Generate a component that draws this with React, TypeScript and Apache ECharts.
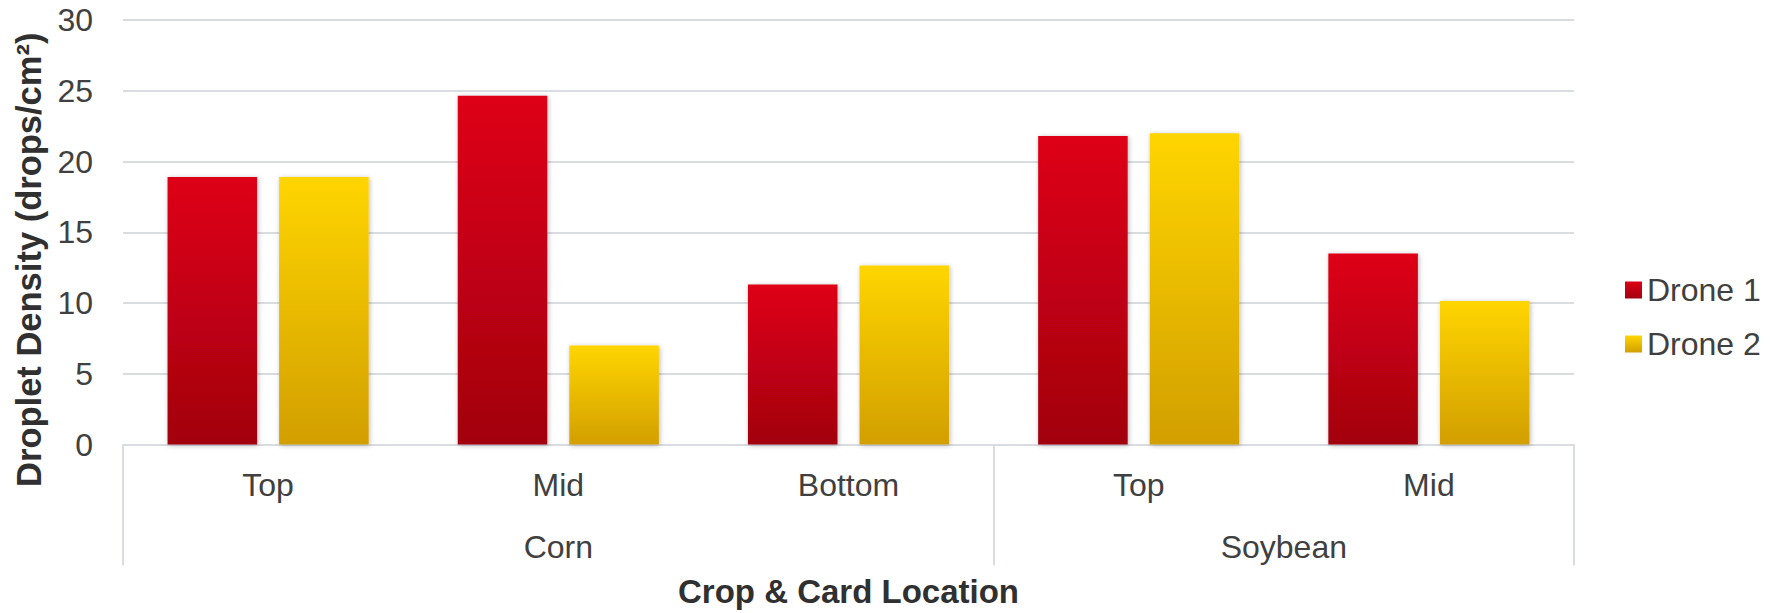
import { useEffect, useRef } from 'react';
import * as echarts from 'echarts';

// Card locations along the x axis, grouped by crop
const locations = ['Top', 'Mid', 'Bottom', 'Top', 'Mid'];
const crops = ['Corn', 'Soybean'];
const cropSpans = [3, 2];

// Droplet density (drops/cm²)
const drone1 = [18.9, 24.65, 11.3, 21.8, 13.5];
const drone2 = [18.9, 7.0, 12.65, 22.0, 10.15];

const yMin = 0;
const yMax = 30;
const yStep = 5;

const FONT = "'Liberation Sans', Arial, sans-serif";
const TEXT = '#404040';
const RULE = '#d9dde2';

export default function App() {
  const ref = useRef<HTMLDivElement>(null);

  useEffect(() => {
    document.body.style.margin = '0';
    if (!ref.current) return;
    const chart = echarts.init(ref.current, undefined, { renderer: 'svg' });

    // group start indices and centre positions (in category units)
    const groupStarts: number[] = [];
    const groupCenters: number[] = [];
    let acc = 0;
    cropSpans.forEach((s) => {
      groupStarts.push(acc);
      groupCenters.push(acc + s / 2);
      acc += s;
    });

    const red = new echarts.graphic.LinearGradient(0, 0, 0, 1, [
      { offset: 0, color: '#de0016' },
      { offset: 1, color: '#a2000f' },
    ]);
    const yellow = new echarts.graphic.LinearGradient(0, 0, 0, 1, [
      { offset: 0, color: '#ffd500' },
      { offset: 1, color: '#d29f00' },
    ]);

    const barShadow = {
      shadowBlur: 5,
      shadowColor: 'rgba(0,0,0,0.28)',
      shadowOffsetX: 1,
      shadowOffsetY: 1,
    };

    chart.setOption({
      animation: false,
      textStyle: { fontFamily: FONT },
      grid: { left: 123, right: 213, top: 20, bottom: 168.5, containLabel: false },
      legend: {
        orient: 'vertical',
        left: 1620,
        top: 269,
        icon: 'rect',
        itemWidth: 17,
        itemHeight: 17,
        itemGap: 22,
        textStyle: { fontSize: 32, color: TEXT, fontFamily: FONT },
        data: ['Drone 1', 'Drone 2'],
      },
      xAxis: [
        {
          type: 'category',
          data: locations,
          position: 'bottom',
          axisLine: { show: true, lineStyle: { color: RULE, width: 2 } },
          axisTick: {
            show: true,
            length: 121,
            interval: (i: number) => groupStarts.includes(i),
            lineStyle: { color: RULE, width: 2 },
          },
          axisLabel: { interval: 0, margin: 24, fontSize: 32, color: TEXT, fontFamily: FONT },
          name: 'Crop & Card Location',
          nameLocation: 'middle',
          nameGap: 130,
          nameTextStyle: { fontSize: 33, fontWeight: 'bold', color: '#303030', fontFamily: FONT },
        },
        {
          type: 'value',
          position: 'bottom',
          min: 0,
          max: acc,
          interval: 0.5,
          axisLine: { show: false },
          axisTick: { show: false },
          splitLine: { show: false },
          axisLabel: {
            margin: 86,
            fontSize: 32,
            color: TEXT,
            fontFamily: FONT,
            formatter: (v: number) => {
              const k = groupCenters.findIndex((c) => Math.abs(c - v) < 1e-6);
              return k >= 0 ? crops[k] : '';
            },
          },
        },
      ],
      yAxis: {
        type: 'value',
        min: yMin,
        max: yMax,
        interval: yStep,
        axisLine: { show: false },
        axisTick: { show: false },
        splitLine: { lineStyle: { color: RULE, width: 2 } },
        axisLabel: { margin: 30, fontSize: 32, color: TEXT, fontFamily: FONT },
        name: 'Droplet Density (drops/cm²)',
        nameLocation: 'middle',
        nameGap: 73,
        nameTextStyle: {
          fontSize: 34.5,
          fontWeight: 'bold',
          color: '#303030',
          fontFamily: FONT,
          padding: [0, 55, 0, 0],
        },
      },
      series: [
        {
          name: 'Drone 1',
          type: 'bar',
          xAxisIndex: 0,
          data: drone1,
          barCategoryGap: '30.7%',
          barGap: '24.6%',
          itemStyle: { color: red, ...barShadow },
        },
        {
          name: 'Drone 2',
          type: 'bar',
          xAxisIndex: 0,
          data: drone2,
          barCategoryGap: '30.7%',
          barGap: '24.6%',
          itemStyle: { color: yellow, ...barShadow },
        },
      ],
    });

    return () => chart.dispose();
  }, []);

  return <div ref={ref} style={{ width: 1787, height: 613 }} />;
}
